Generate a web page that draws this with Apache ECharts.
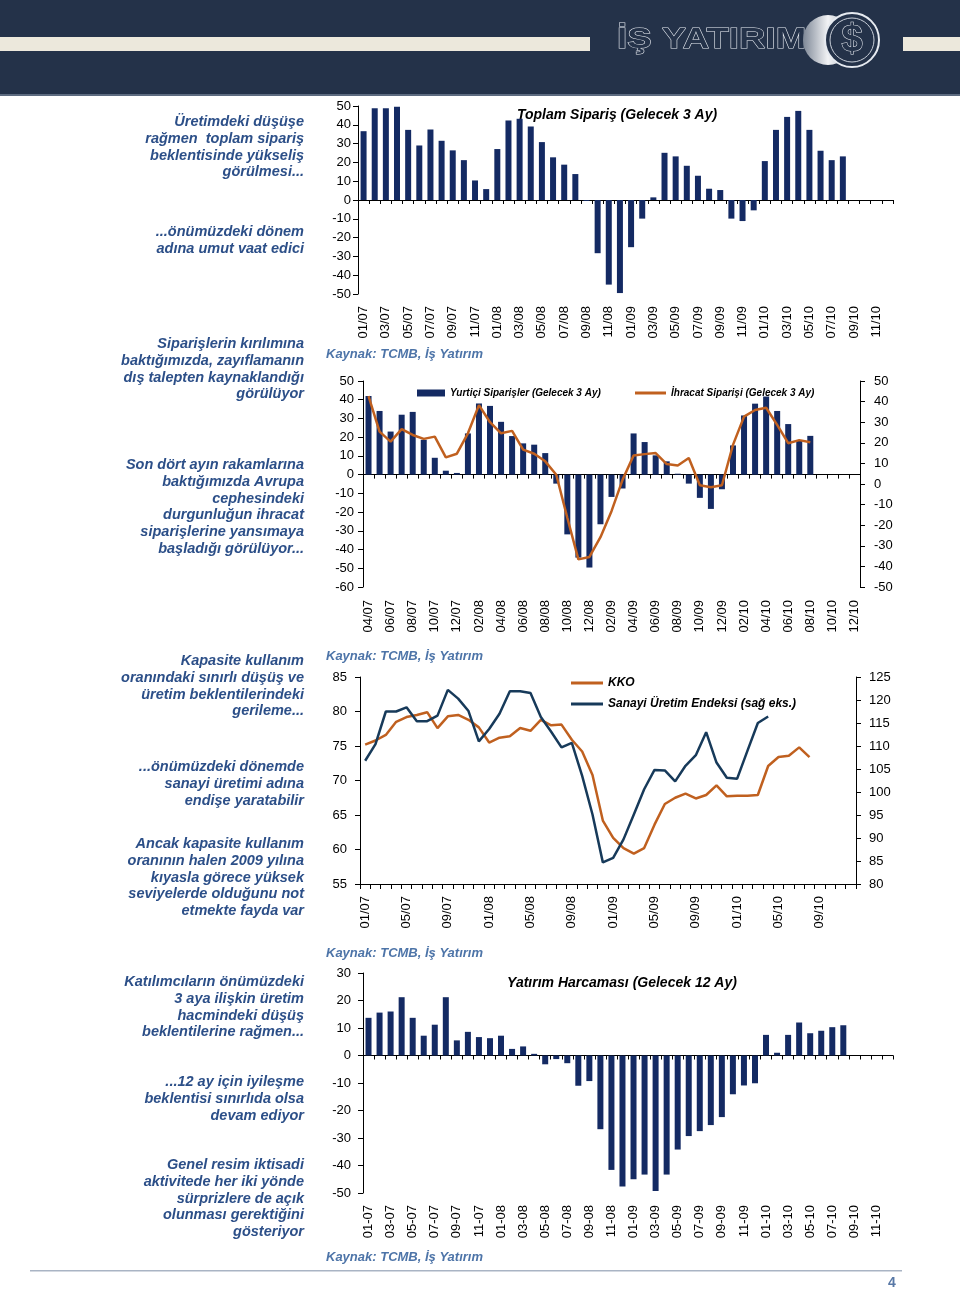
<!DOCTYPE html>
<html><head><meta charset="utf-8">
<script src="https://cdn.jsdelivr.net/npm/echarts@6/dist/echarts.min.js"></script>
<style>html,body{margin:0;padding:0;background:#fff}#c{width:960px;height:1295px}</style>
</head><body><div id="c"></div>
<script>
// ---------- DATA ----------
const monthsSlash = ["01/07","02/07","03/07","04/07","05/07","06/07","07/07","08/07","09/07","10/07","11/07","12/07",
"01/08","02/08","03/08","04/08","05/08","06/08","07/08","08/08","09/08","10/08","11/08","12/08",
"01/09","02/09","03/09","04/09","05/09","06/09","07/09","08/09","09/09","10/09","11/09","12/09",
"01/10","02/10","03/10","04/10","05/10","06/10","07/10","08/10","09/10","10/10","11/10","12/10"];
const monthsFromApr07 = ["04/07","05/07","06/07","07/07","08/07","09/07","10/07","11/07","12/07",
"01/08","02/08","03/08","04/08","05/08","06/08","07/08","08/08","09/08","10/08","11/08","12/08",
"01/09","02/09","03/09","04/09","05/09","06/09","07/09","08/09","09/09","10/09","11/09","12/09",
"01/10","02/10","03/10","04/10","05/10","06/10","07/10","08/10","09/10","10/10","11/10","12/10"];
const monthsDash = ["01-07","02-07","03-07","04-07","05-07","06-07","07-07","08-07","09-07","10-07","11-07","12-07",
"01-08","02-08","03-08","04-08","05-08","06-08","07-08","08-08","09-08","10-08","11-08","12-08",
"01-09","02-09","03-09","04-09","05-09","06-09","07-09","08-09","09-09","10-09","11-09","12-09",
"01-10","02-10","03-10","04-10","05-10","06-10","07-10","08-10","09-10","10-10","11-10","12-10"];

const toplamSiparis = [36.6,48.8,48.8,49.6,37.3,29,37.5,31.5,26.4,21.2,10.4,5.8,
27.1,42.3,43.2,39.1,30.8,22.7,18.8,13.8,-0.5,-28.3,-45,-49.5,
-25.1,-9.9,1.4,25.1,23.2,18.2,12.9,6.0,5.3,-9.9,-11.2,-5.5,
20.7,37.3,44.2,47.4,37.3,26.2,21.2,23.2];

const yurticiSiparis = [42,34,23,32,33.5,18.6,9,2.1,0.9,
22,38,36.7,28.2,20.6,16.7,16,11.5,-4.8,-31.9,-44.3,-49.6,
-26.5,-11.9,-7.4,22,17.4,10.3,7.1,0.5,-4.8,-12.4,-18.3,-7.8,
15.6,31.6,37.9,41.7,34,27,18.1,20.7];

const ihracatSiparis = [42.7,25.4,20.6,26.6,23.8,21.9,23.0,12.9,14.7,
24.6,38.3,30,24.6,25.8,16.7,14.7,11,4.5,-16.4,-36.6,-35.4,
-25.8,-13.2,2,13.8,14.5,15,9.7,9,12.6,-0.6,-1.6,-0.6,
19,32.7,35.9,37,28.7,19.8,21.3,20.3];

const kko = [75.2,75.8,76.6,78.5,79.2,79.5,79.9,77.6,79.3,79.5,78.8,77.7,
75.5,76.2,76.4,77.6,77.2,78.8,78.0,78.1,75.9,74.2,70.8,64.2,
61.7,60.2,59.4,60.2,63.6,66.6,67.5,68.1,67.4,67.9,69.3,67.7,
67.8,67.8,67.9,72.1,73.4,73.6,74.8,73.4];

const sanayiUretim = [106.8,110.4,117.5,117.5,118.4,115.4,115.4,116.6,122.2,120.3,117.6,111,
113.7,117,121.9,121.9,121.5,116.3,113.1,109.7,110.7,103.5,95.1,84.7,
85.7,89.7,95.1,100.6,104.8,104.7,102.3,105.7,108,113,106.4,103.1,
102.9,109,115,116.4];

const yatirimHarcamasi = [13.7,15.6,16,21.2,13.7,7.2,11.2,21.2,5.5,8.6,6.7,6.3,
7.2,2.4,3.3,0.6,-3.2,-1.3,-2.8,-11,-9.3,-26.8,-41.6,-47.6,
-45,-43.3,-49.3,-43.3,-34.2,-29.3,-27.5,-25.3,-22.4,-14.1,-10.9,-10.1,
7.5,1,7.5,12,8.1,9,10.3,11];

const leftNotes = [
 {y:113.6, t:"Üretimdeki düşüşe\nrağmen  toplam sipariş\nbeklentisinde yükseliş\ngörülmesi..."},
 {y:223.6, t:"...önümüzdeki dönem\nadına umut vaat edici"},
 {y:335.6, t:"Siparişlerin kırılımına\nbaktığımızda, zayıflamanın\ndış talepten kaynaklandığı\ngörülüyor"},
 {y:456.6, t:"Son dört ayın rakamlarına\nbaktığımızda Avrupa\ncephesindeki\ndurgunluğun ihracat\nsiparişlerine yansımaya\nbaşladığı görülüyor..."},
 {y:652.6, t:"Kapasite kullanım\noranındaki sınırlı düşüş ve\nüretim beklentilerindeki\ngerileme..."},
 {y:758.6, t:"...önümüzdeki dönemde\nsanayi üretimi adına\nendişe yaratabilir"},
 {y:835.6, t:"Ancak kapasite kullanım\noranının halen 2009 yılına\nkıyasla görece yüksek\nseviyelerde olduğunu not\netmekte fayda var"},
 {y:973.6, t:"Katılımcıların önümüzdeki\n3 aya ilişkin üretim\nhacmindeki düşüş\nbeklentilerine rağmen..."},
 {y:1073.6, t:"...12 ay için iyileşme\nbeklentisi sınırlıda olsa\ndevam ediyor"},
 {y:1156.6, t:"Genel resim iktisadi\naktivitede her iki yönde\nsürprizlere de açık\nolunması gerektiğini\ngösteriyor"}
];
const sourceText = "Kaynak: TCMB, İş Yatırım";
const sourceY = [354, 656, 953, 1257];

// ---------- STYLE ----------
const FONT = "'Liberation Sans', Arial, Helvetica, sans-serif";
const NAVY = '#142a63';
const ORANGE = '#c0601f';
const DARKBLUE = '#173a5a';
const axisLine = {show:true, lineStyle:{color:'#000', width:1}};
const lbl = (m) => ({color:'#000', fontSize:13, fontFamily:FONT, margin:m});

function zeroX(grid, data, yIdx) {
  return {type:'category', gridIndex:grid, data:data, position:'bottom',
    axisLine:{show:true, onZero:true, onZeroAxisIndex:yIdx, lineStyle:{color:'#000', width:1}},
    axisTick:{show:true, interval:0, length:4, lineStyle:{color:'#000'}},
    axisLabel:{show:false}, splitLine:{show:false}};
}
function labelX(grid, data, interval, margin) {
  return {type:'category', gridIndex:grid, data:data, position:'bottom',
    axisLine:{show:false, onZero:false}, axisTick:{show:false},
    axisLabel:Object.assign(lbl(margin), {rotate:90, interval:interval}), splitLine:{show:false}};
}
function valY(grid, min, max, interval, pos, margin) {
  return {type:'value', gridIndex:grid, min:min, max:max, interval:interval, position:pos,
    axisLine:axisLine, axisTick:{show:true, length:5, lineStyle:{color:'#000'}},
    axisLabel:lbl(margin), splitLine:{show:false}};
}

const graphics = [
  {type:'rect', shape:{x:0,y:0,width:960,height:95}, style:{fill:'#243249'}},
  {type:'rect', shape:{x:0,y:94,width:960,height:2}, style:{fill:'#5d6b80'}},
  {type:'rect', shape:{x:0,y:37,width:590,height:14}, style:{fill:'#ece8dc'}},
  {type:'rect', shape:{x:903,y:37,width:57,height:14}, style:{fill:'#ece8dc'}},
  {type:'text', x:617, y:40, scaleX:1.22, style:{text:'İŞ YATIRIM', font:"bold 30px "+FONT, fill:'#243249', stroke:'#e6eaf0', lineWidth:1, verticalAlign:'middle'}},
  {type:'circle', shape:{cx:828, cy:40, r:25}, style:{fill:{type:'linear',x:0,y:0,x2:1,y2:0,colorStops:[{offset:0,color:'#7d8796'},{offset:0.5,color:'#f2f3f5'},{offset:1,color:'#9aa3b0'}]}}},
  {type:'circle', shape:{cx:852, cy:40, r:27}, style:{fill:'#243249', stroke:'#e6eaf0', lineWidth:2}},
  {type:'circle', shape:{cx:852, cy:40, r:22}, style:{fill:'none', stroke:'#c8ced8', lineWidth:1}},
  {type:'text', x:852, y:41, style:{text:'$', font:"bold 38px "+FONT, fill:'#243249', stroke:'#e6eaf0', lineWidth:1, align:'center', verticalAlign:'middle'}},
  {type:'text', x:617, y:115, style:{text:'Toplam Sipariş (Gelecek 3 Ay)', font:"italic bold 14px "+FONT, fill:'#000', align:'center', verticalAlign:'middle'}},
  {type:'text', x:622, y:983, style:{text:'Yatırım Harcaması (Gelecek 12 Ay)', font:"italic bold 14px "+FONT, fill:'#000', align:'center', verticalAlign:'middle'}},
  {type:'rect', shape:{x:30,y:1270,width:872,height:1.5}, style:{fill:'#a9b4c4'}},
  {type:'text', x:892, y:1283, style:{text:'4', font:"bold 14px "+FONT, fill:'#5878a6', align:'center', verticalAlign:'middle'}}
];
leftNotes.forEach(n => graphics.push({type:'text', x:304, y:n.y,
  style:{text:n.t, font:"italic bold 14.5px "+FONT, fill:'#2c4f88', align:'right', verticalAlign:'top', lineHeight:16.8}}));
sourceY.forEach(y => graphics.push({type:'text', x:326, y:y,
  style:{text:sourceText, font:"italic bold 13px "+FONT, fill:'#4d74a8', align:'left', verticalAlign:'middle'}}));

const legendText = {fontFamily:FONT, fontStyle:'italic', fontWeight:'bold', color:'#000'};

const option = {
  animation:false,
  backgroundColor:'#fff',
  grid:[
    {left:358, top:106, width:535, height:188},
    {left:363, top:381, width:497, height:206},
    {left:360, top:677, width:496, height:207},
    {left:363, top:973, width:530, height:220}
  ],
  xAxis:[
    zeroX(0, monthsSlash, 0),
    labelX(0, monthsSlash, 1, 12),
    zeroX(1, monthsFromApr07, 1),
    labelX(1, monthsFromApr07, 1, 13),
    {type:'category', gridIndex:2, data:monthsSlash, position:'bottom',
      axisLine:{show:true, onZero:false, lineStyle:{color:'#000', width:1}},
      axisTick:{show:true, interval:0, length:5, lineStyle:{color:'#000'}},
      axisLabel:Object.assign(lbl(12), {rotate:90, interval:3}), splitLine:{show:false}},
    zeroX(3, monthsDash, 5),
    labelX(3, monthsDash, 1, 12)
  ],
  yAxis:[
    valY(0, -50, 50, 10, 'left', 7),
    valY(1, -60, 50, 10, 'left', 9),
    valY(1, -50, 50, 10, 'right', 14),
    valY(2, 55, 85, 5, 'left', 13),
    valY(2, 80, 125, 5, 'right', 13),
    valY(3, -50, 30, 10, 'left', 12)
  ],
  legend:[
    {left:412, top:383, itemWidth:28, itemHeight:7, icon:'rect', data:['Yurtiçi Siparişler (Gelecek 3 Ay)'], textStyle:Object.assign({fontSize:10}, legendText)},
    {left:630, top:383, itemWidth:31, itemHeight:3, icon:'rect', data:['İhracat Siparişi (Gelecek 3 Ay)'], textStyle:Object.assign({fontSize:10}, legendText)},
    {left:566, top:672, orient:'vertical', itemGap:9, itemWidth:32, itemHeight:3, icon:'rect', data:['KKO','Sanayi Üretim Endeksi (sağ eks.)'], textStyle:Object.assign({fontSize:12}, legendText)}
  ],
  series:[
    {name:'Toplam Sipariş', type:'bar', xAxisIndex:0, yAxisIndex:0, data:toplamSiparis, barWidth:6, itemStyle:{color:NAVY}},
    {name:'Yurtiçi Siparişler (Gelecek 3 Ay)', type:'bar', xAxisIndex:2, yAxisIndex:1, data:yurticiSiparis, barWidth:6, itemStyle:{color:NAVY}},
    {name:'İhracat Siparişi (Gelecek 3 Ay)', type:'line', xAxisIndex:2, yAxisIndex:2, data:ihracatSiparis, symbol:'none', lineStyle:{color:ORANGE, width:2.5}, itemStyle:{color:ORANGE}},
    {name:'KKO', type:'line', xAxisIndex:4, yAxisIndex:3, data:kko, symbol:'none', lineStyle:{color:ORANGE, width:2.5}, itemStyle:{color:ORANGE}},
    {name:'Sanayi Üretim Endeksi (sağ eks.)', type:'line', xAxisIndex:4, yAxisIndex:4, data:sanayiUretim, symbol:'none', lineStyle:{color:DARKBLUE, width:2.5}, itemStyle:{color:DARKBLUE}},
    {name:'Yatırım Harcaması', type:'bar', xAxisIndex:5, yAxisIndex:5, data:yatirimHarcamasi, barWidth:6, itemStyle:{color:NAVY}}
  ],
  graphic:graphics
};
const chart = echarts.init(document.getElementById('c'), null, {renderer:'canvas', width:960, height:1295});
chart.setOption(option);
</script>
</body></html>
